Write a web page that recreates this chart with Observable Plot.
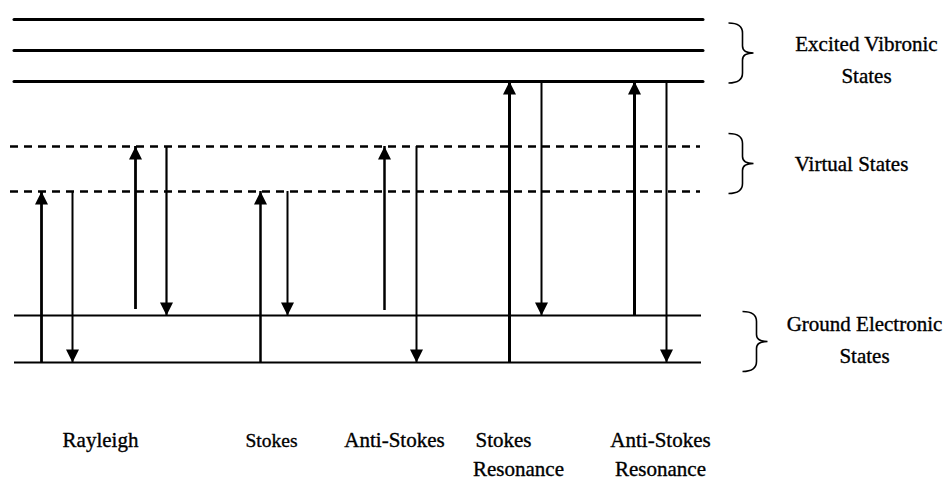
<!DOCTYPE html>
<html>
<head>
<meta charset="utf-8">
<script src="https://cdn.jsdelivr.net/npm/d3@7"></script>
<script src="https://cdn.jsdelivr.net/npm/@observablehq/plot@0.6"></script>
<style>
  html, body { margin: 0; padding: 0; background: white; }
  svg text { font-family: "Liberation Serif", "Times New Roman", serif !important; }
</style>
</head>
<body>
<div id="chart"></div>
<script>
// ---- Energy levels (arbitrary energy units, ground v=0 at 0) ----
const excitedLevels = [281, 312, 343];
const virtualLevels = [171, 216];
const groundLevels = [0, 47];
const levelStart = 14;   // x extent of the level lines (diagram units)
const levelEnd = 703;

// ---- Transitions: upward (absorption) and downward (emission) arrows ----
const upX    = [41, 135, 260, 384, 509, 634];
const upFrom = [0, 53, 0, 52, 0, 47];
const upTo   = [171, 216, 171, 216, 281, 281];
const downX    = [72, 166, 287, 416, 541, 666];
const downFrom = [171, 216, 171, 216, 281, 281];
const downTo   = [0, 47, 47, 0, 47, 0];
const upWidth   = [2.8, 2.8, 2.5, 2.5, 3, 3];
const downWidth = [2, 2.2, 2, 2, 2, 2];

// ---- Process labels under the columns ----
const processLine1 = ["Rayleigh", "Stokes", "Anti-Stokes", "Stokes", "Anti-Stokes"];
const processLine2 = ["", "", "", "Resonance", "Resonance"];
const processX1 = [100, 271, 394, 503, 660];
const processX2 = [100, 271, 394, 518, 660];
const processSize = [21, 19.5, 21, 21, 21];

// ---- Group labels on the right ----
const groupLabels = ["Excited Vibronic\nStates", "Virtual States", "Ground Electronic\nStates"];
const groupX = [866, 851, 864];
const groupY = [280, 192, 0];
const braceX = [742, 742, 756];
const braceY = [309.5, 199, 21];

// tables built from the arrays
const ups = upX.map((x, i) => ({x, y1: upFrom[i], y2: upTo[i], w: upWidth[i]}));
const downs = downX.map((x, i) => ({x, y1: downFrom[i], y2: downTo[i], w: downWidth[i]}));
const procs = processLine1.map((t, i) => ({t1: t, t2: processLine2[i], x1: processX1[i], x2: processX2[i], s: processSize[i]}));
const groups = groupLabels.map((t, i) => ({t, x: groupX[i], y: groupY[i], bx: braceX[i], by: braceY[i]}));

// custom symbols: arrowheads with the tip at the origin, and a curly brace
const headUp = {draw(ctx) { ctx.moveTo(0, 0); ctx.lineTo(-6.5, 13); ctx.lineTo(6.5, 13); ctx.closePath(); }};
const headDown = {draw(ctx) { ctx.moveTo(0, 0); ctx.lineTo(-6.5, -13); ctx.lineTo(6.5, -13); ctx.closePath(); }};
const brace = {draw(ctx) {
  const h = 30;
  ctx.moveTo(-14, -h);
  ctx.quadraticCurveTo(0, -h, 0, -h + 10);
  ctx.lineTo(0, -7);
  ctx.quadraticCurveTo(0, 0, 11, 0);
  ctx.quadraticCurveTo(0, 0, 0, 7);
  ctx.lineTo(0, h - 10);
  ctx.quadraticCurveTo(0, h, -14, h);
}};

const font = "Liberation Serif";
const textInk = {fill: "black", stroke: "black", strokeWidth: 0.35};

const chart = Plot.plot({
  width: 950,
  height: 480,
  margin: 0,
  x: {domain: [0, 950], axis: null},
  y: {domain: [-118, 362], axis: null},
  style: {fontFamily: font, background: "white", color: "black"},
  marks: [
    Plot.ruleY(excitedLevels, {y: d => d, x1: levelStart, x2: levelEnd, stroke: "black", strokeWidth: 3, strokeLinecap: "round"}),
    Plot.ruleY(virtualLevels, {y: d => d, x1: levelStart - 4, x2: levelEnd - 3, stroke: "black", strokeWidth: 2.5, strokeDasharray: "8,6"}),
    Plot.ruleY(groundLevels, {y: d => d, x1: levelStart, x2: levelEnd - 2, stroke: "black", strokeWidth: 2}),
    Plot.ruleX(ups, {x: "x", y1: "y1", y2: "y2", stroke: "black", strokeWidth: d => d.w}),
    Plot.ruleX(downs, {x: "x", y1: "y1", y2: "y2", stroke: "black", strokeWidth: d => d.w}),
    Plot.dot(ups, {x: "x", y: "y2", symbol: headUp, fill: "black", stroke: "none"}),
    Plot.dot(downs, {x: "x", y: "y2", symbol: headDown, fill: "black", stroke: "none"}),
    Plot.dot(groups, {x: "bx", y: "by", symbol: brace, fill: "none", stroke: "black", strokeWidth: 1.6}),
    Plot.text(groups, {x: "x", y: "y", text: "t", fontFamily: font, fontSize: 21, lineAnchor: "bottom", lineHeight: 1.5, ...textInk}),
    Plot.text(procs, {x: "x1", y: -84, text: "t1", fontFamily: font, fontSize: d => d.s, lineAnchor: "bottom", ...textInk}),
    Plot.text(procs, {x: "x2", y: -113, text: "t2", fontFamily: font, fontSize: 21, lineAnchor: "bottom", ...textInk})
  ]
});
document.getElementById("chart").append(chart);
</script>
</body>
</html>
